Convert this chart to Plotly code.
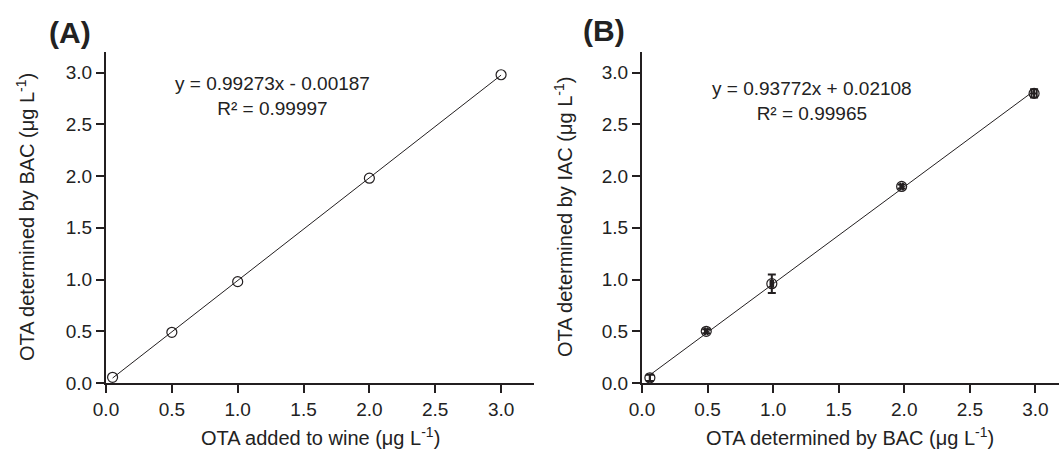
import plotly.graph_objects as go

# Panel A data
a_x = [0.05, 0.5, 1.0, 2.0, 3.0]
a_y = [0.055, 0.49, 0.98, 1.98, 2.98]
a_slope, a_int = 0.99273, -0.00187
a_eq = "y = 0.99273x - 0.00187<br>R² = 0.99997"

# Panel B data
b_x = [0.06, 0.49, 0.99, 1.98, 2.99]
b_y = [0.05, 0.50, 0.96, 1.90, 2.80]
b_yerr = [0.03, 0.02, 0.09, 0.02, 0.04]
b_xerr = [0.0, 0.01, 0.01, 0.01, 0.02]
b_slope, b_int = 0.93772, 0.02108
b_eq = "y = 0.93772x + 0.02108<br>R² = 0.99965"

tick_vals = [0.0, 0.5, 1.0, 1.5, 2.0, 2.5, 3.0]
tick_text = ["0.0", "0.5", "1.0", "1.5", "2.0", "2.5", "3.0"]

FONT = "Arial, Liberation Sans, sans-serif"
TXT = "#222222"
AX = "#231f20"
W, H = 1059, 451

fig = go.Figure()

# Panel A
fig.add_trace(go.Scatter(
    x=[a_x[0], a_x[-1]],
    y=[a_slope * a_x[0] + a_int, a_slope * a_x[-1] + a_int],
    mode="lines", line=dict(color=AX, width=1), xaxis="x", yaxis="y",
    showlegend=False, hoverinfo="skip"))
fig.add_trace(go.Scatter(
    x=a_x, y=a_y, mode="markers", xaxis="x", yaxis="y",
    marker=dict(symbol="circle", size=10, color="rgba(255,255,255,0)",
                line=dict(color=AX, width=1.2)),
    showlegend=False))

# Panel B
fig.add_trace(go.Scatter(
    x=[b_x[0], b_x[-1]],
    y=[b_slope * b_x[0] + b_int, b_slope * b_x[-1] + b_int],
    mode="lines", line=dict(color=AX, width=1), xaxis="x2", yaxis="y2",
    showlegend=False, hoverinfo="skip"))
fig.add_trace(go.Scatter(
    x=b_x, y=b_y, mode="markers", xaxis="x2", yaxis="y2",
    marker=dict(symbol="circle", size=10, color="rgba(255,255,255,0)",
                line=dict(color=AX, width=1.2)),
    error_y=dict(type="data", array=b_yerr, visible=True, color=AX,
                 thickness=2, width=4),
    error_x=dict(type="data", array=b_xerr, visible=True, color=AX,
                 thickness=2, width=4),
    showlegend=False))

TICKFONT = dict(family=FONT, size=19, color=TXT)

def axis(domain, anchor, rng):
    return dict(domain=domain, anchor=anchor, range=rng,
                tickvals=tick_vals, ticktext=tick_text,
                showline=True, linecolor=AX, linewidth=2,
                ticks="outside", ticklen=8, tickwidth=2, tickcolor=AX,
                showgrid=False, zeroline=False, automargin=False,
                tickfont=TICKFONT)

ydom = [(H - 383) / H, (H - 52) / H]

fig.update_layout(
    width=W, height=H,
    margin=dict(l=0, r=0, t=0, b=0, autoexpand=False),
    paper_bgcolor="white", plot_bgcolor="white",
    font=dict(family=FONT, color=TXT),
    xaxis=axis([106 / W, 534 / W], "y", [0, 3.25]),
    yaxis=axis(ydom, "x", [0, 3.2]),
    xaxis2=axis([642 / W, 1.0], "y2", [0, 3.18]),
    yaxis2=axis(ydom, "x2", [0, 3.2]),
)

title_font = dict(family=FONT, size=20, color=TXT)
eq_font = dict(family=FONT, size=19, color=TXT)
lab_font = dict(family=FONT, size=30, color=TXT)
ann = [
    dict(text="<b>(A)</b>", x=70, y=33, font=lab_font, angle=0),
    dict(text="<b>(B)</b>", x=604, y=30, font=lab_font, angle=0),
    dict(text=a_eq, x=272, y=96, font=eq_font, angle=0),
    dict(text=b_eq, x=812, y=101, font=eq_font, angle=0),
    dict(text="OTA added to wine (μg L<sup>-1</sup>)", x=320, y=436,
         font=title_font, angle=0),
    dict(text="OTA determined by BAC (μg L<sup>-1</sup>)", x=850, y=436,
         font=title_font, angle=0),
    dict(text="OTA determined by BAC (μg L<sup>-1</sup>)", x=25, y=217,
         font=title_font, angle=-90),
    dict(text="OTA determined by IAC (μg L<sup>-1</sup>)", x=563, y=217,
         font=title_font, angle=-90),
]
for a in ann:
    fig.add_annotation(
        text=a["text"], xref="paper", yref="paper",
        x=a["x"] / W, y=1 - a["y"] / H,
        xanchor="center", yanchor="middle",
        showarrow=False, font=a["font"], textangle=a["angle"],
        align="center")

fig.write_html("out.html",
               config={"displayModeBar": False},
               post_script="document.body.style.margin='0';document.body.style.overflow='hidden';")
